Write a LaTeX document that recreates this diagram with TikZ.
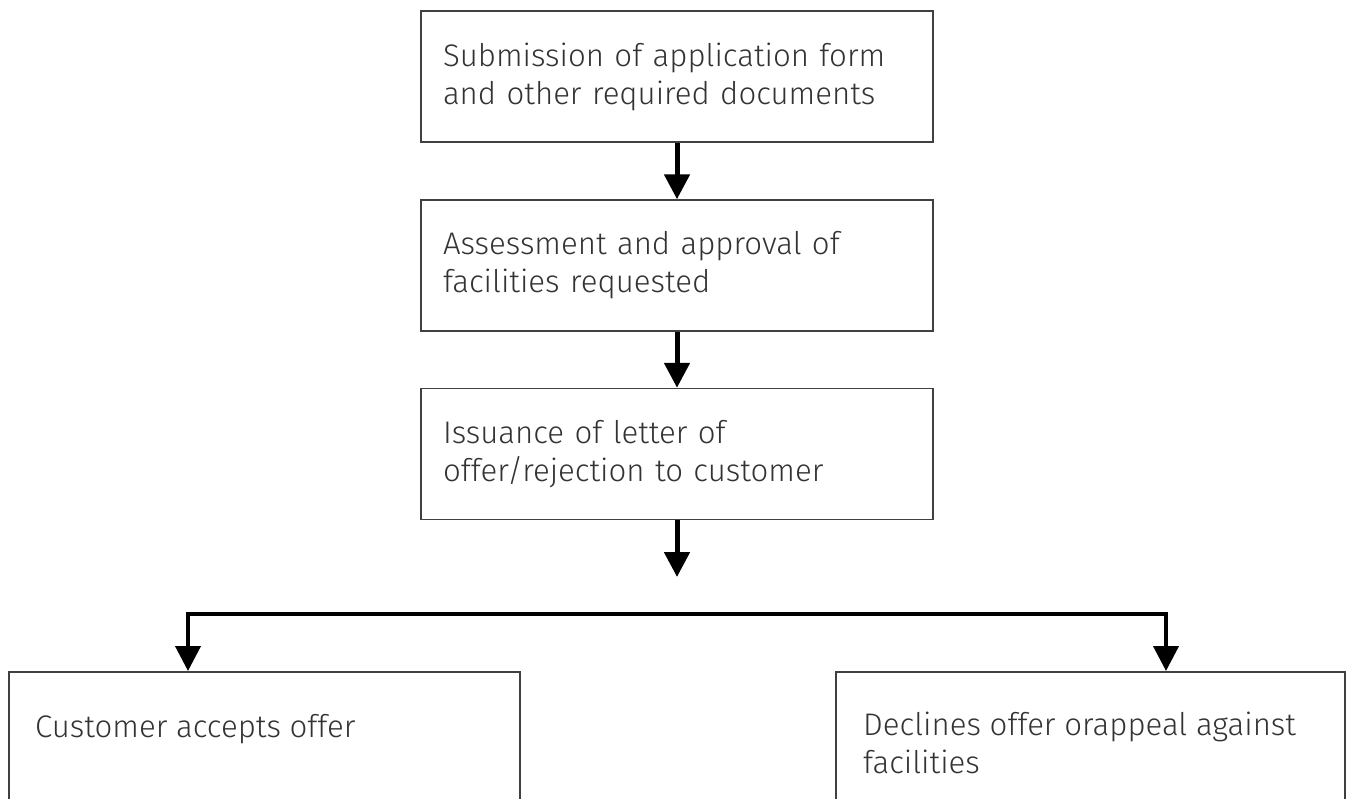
\documentclass[tikz,border=0pt]{standalone}
\usepackage{fontspec}
\IfFontExistsTF{Fira Sans Light}{\setmainfont{Fira Sans Light}}{\setmainfont{Fira Sans}}
\usetikzlibrary{arrows.meta,calc}
\definecolor{txtc}{HTML}{333333}
\definecolor{boxc}{HTML}{404040}
\begin{document}
\begin{tikzpicture}[x=1pt,y=1pt,
  box/.style={draw=boxc,line width=1.5pt,rectangle,inner ysep=0pt,
    font=\fontsize{31.2}{38}\selectfont,text=txtc},
  topbox/.style={box,minimum width=512pt,minimum height=131pt,
    inner xsep=22pt,text width=468pt,align=left},
  lowbox/.style={box,minimum width=511pt,minimum height=170pt,anchor=north west},
  txt/.style={font=\fontsize{31.2}{38}\selectfont,text=txtc,inner sep=0pt,anchor=base west},
  arr/.style={line width=5pt,-{Triangle[width=25pt,length=25pt]}},
  branch/.style={line width=4pt,{Triangle[width=25pt,length=25pt]}-{Triangle[width=25pt,length=25pt]}}
]
\useasboundingbox (0,0) rectangle (1346,-798);
\clip (0,0) rectangle (1346,-798);

\node[topbox] (b1) at (677,-76.5) {Submission of application form\\and other required documents};
\node[topbox] (b2) at (677,-265.5) {Assessment and approval of\\facilities requested};
\node[topbox] (b3) at (677,-454) {Issuance of letter of\\offer/rejection to customer};

\node[lowbox] (b4) at (8,-671) {};
\node[lowbox,minimum width=509pt] (b5) at (835,-671) {};

\node[txt] (t4) at ($(b4.north west)+(27,-66)$) {Customer accepts offer};
\node[txt] (t5) at ($(b5.north west)+(28,-64)$) {\parbox[t]{480pt}{\raggedright Declines offer orappeal against\\facilities}};

\coordinate (mid) at (677,-577);
\coordinate (hl) at (188,-614);
\coordinate (hr) at (1166,-614);

\draw[arr] (b1.south) -- (b2.north);
\draw[arr] (b2.south) -- (b3.north);
\draw[arr] (b3.south) -- (mid);
\draw[branch,line join=miter] (hl |- b4.north) -- (hl) -- (hr) -- (hr |- b5.north);
\end{tikzpicture}
\end{document}
